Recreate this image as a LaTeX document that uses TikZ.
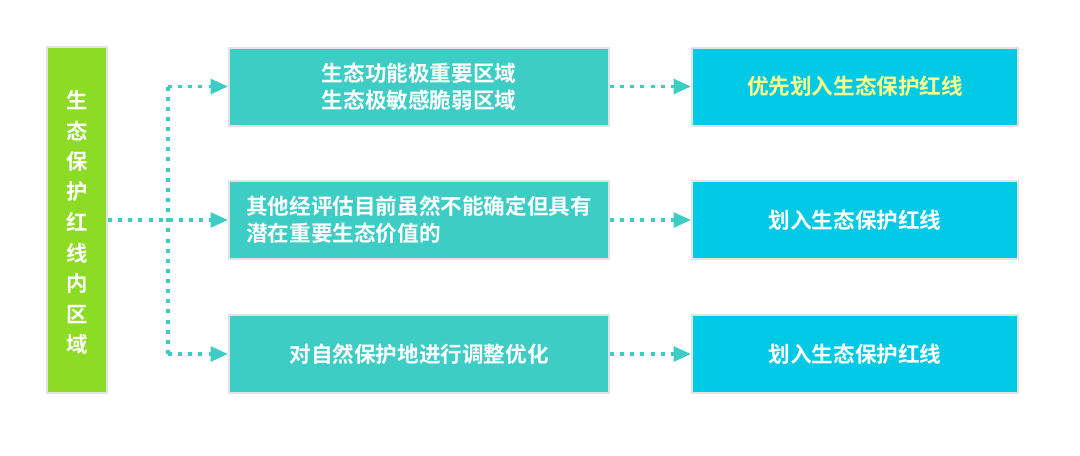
\documentclass[tikz,border=0pt]{standalone}
\usepackage{fontspec}
\newfontfamily\cjk{Noto Sans CJK SC}[BoldFont={Noto Sans CJK SC Bold}]
\usetikzlibrary{arrows.meta}
\definecolor{lgreen}{HTML}{8CDB24}
\definecolor{teal1}{HTML}{3DCDC5}
\definecolor{cyan1}{HTML}{00C9E6}
\definecolor{edge}{HTML}{E2E2E2}
\definecolor{ytext}{HTML}{FFFF8A}
\begin{document}
\begin{tikzpicture}[x=0.75pt,y=-0.75pt,
  box/.style={draw=edge,line width=1.5pt,inner sep=0pt,text=white,align=center,font=\cjk\bfseries\fontsize{16.2pt}{20pt}\selectfont},
  gbox/.style={box,fill=lgreen,minimum width=45pt,minimum height=259pt},
  tbox/.style={box,fill=teal1,minimum width=285pt,minimum height=58.5pt},
  cbox/.style={box,fill=cyan1,minimum width=244.5pt,minimum height=58.5pt},
  dotline/.style={draw=teal1,line width=2.6pt,dash pattern=on 3pt off 4.6pt},
  arr/.style={dotline,-{Triangle[length=13pt,width=11pt,fill=teal1]}}
]
\useasboundingbox (0,0) rectangle (1080,455);
\node[gbox] (g) at (77,220) {};
\foreach \c [count=\i] in {生,态,保,护,红,线,内,区,域}
  \node[text=white,font=\cjk\bfseries\fontsize{16pt}{18pt}\selectfont,inner sep=0pt] (gc\i) at (77,{100+(\i-1)*30.6}) {\c};
\node[tbox] (t1) at (419,86.5) {生态功能极重要区域\\生态极敏感脆弱区域};
\node[tbox,align=left] (t2) at (419,220) {其他经评估目前虽然不能确定但具有\\潜在重要生态价值的};
\node[tbox] (t3) at (419,354) {对自然保护地进行调整优化};
\node[cbox,text=ytext] (c1) at (855,86.5) {优先划入生态保护红线};
\node[cbox] (c2) at (855,220) {划入生态保护红线};
\node[cbox] (c3) at (855,354) {划入生态保护红线};
\coordinate (j1) at (168,86.5);
\coordinate (j3) at (168,354);
\draw[arr] (g.east |- t2.west) -- (t2.west);
\draw[dotline] (j1) -- (j3);
\draw[arr] (j1) -- (t1.west);
\draw[arr] (j3) -- (t3.west);
\draw[arr] (t1.east) -- (c1.west);
\draw[arr] (t2.east) -- (c2.west);
\draw[arr] (t3.east) -- (c3.west);
\end{tikzpicture}
\end{document}
